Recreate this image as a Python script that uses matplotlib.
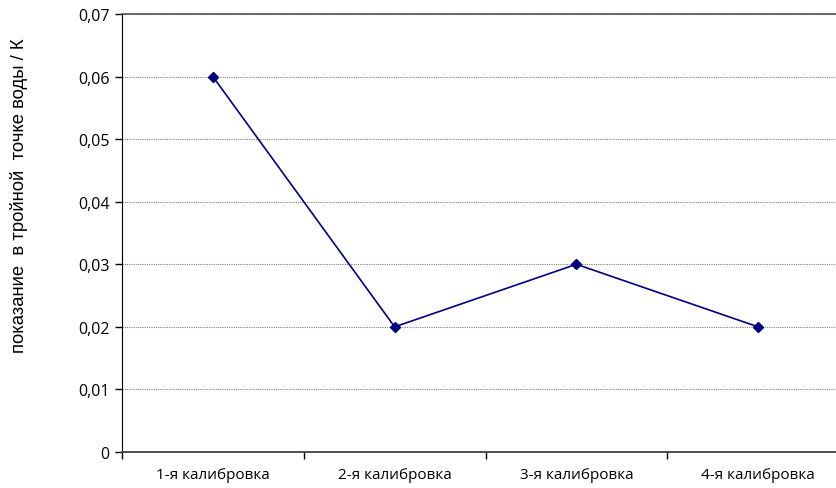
import matplotlib.pyplot as plt
from matplotlib.ticker import FuncFormatter, FixedLocator

categories = ['1-я калибровка', '2-я калибровка', '3-я калибровка', '4-я калибровка']
readings = [0.06, 0.02, 0.03, 0.02]
yticks = [0, 0.01, 0.02, 0.03, 0.04, 0.05, 0.06, 0.07]

plt.rcParams['font.family'] = ['Open Sans', 'DejaVu Sans']

fig = plt.figure(figsize=(8.37, 4.89), dpi=100)
ax = fig.add_axes([122/837, 36/489, 727/837, 438/489])

x = list(range(len(categories)))
ax.plot(x, readings, color='#000080', lw=1.2, marker='D', ms=5, mfc='#000080', mec='#000080')

ax.set_xlim(-0.5, len(categories) - 0.5)
ax.set_ylim(0, 0.07)
ax.set_yticks(yticks)
ax.yaxis.set_major_formatter(FuncFormatter(lambda v, p: '0' if abs(v) < 1e-9 else f'{v:.2f}'.replace('.', ',')))
ax.set_xticks(x)
ax.set_xticklabels(categories)
ax.xaxis.set_minor_locator(FixedLocator([i - 0.5 for i in range(len(categories) + 1)]))
ax.tick_params(axis='x', which='major', length=0, labelsize=11, pad=11)
ax.tick_params(axis='x', which='minor', length=5, width=1, direction='out')
ax.tick_params(axis='y', length=5, width=1, direction='out', labelsize=11.5, pad=4)

ax.grid(axis='y', color='#808080', lw=0.8, ls=(0, (1, 1)))
ax.set_axisbelow(True)
for s in ['top', 'right']:
    ax.spines[s].set_visible(False)
ax.spines['left'].set_color('black')
ax.spines['bottom'].set_color('#404040')
ax.spines['bottom'].set_linewidth(1.3)
ax.axhline(0.07, color='#606060', lw=1.3, clip_on=False)

# y label sits higher than the axes centre in the original
fig.text(19/837, 1 - 196/489, 'показание  в тройной  точке воды / К', rotation=90,
         ha='center', va='center', fontsize=13.3, family=['Liberation Sans', 'DejaVu Sans'])

plt.savefig('out.png', dpi=100)
